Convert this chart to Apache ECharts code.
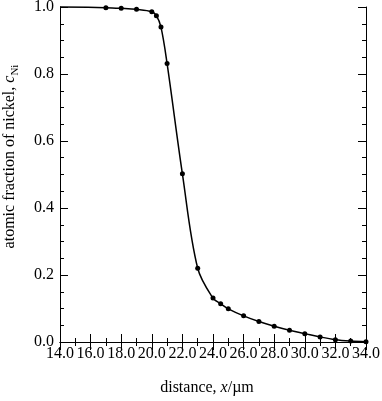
<!DOCTYPE html>
<html>
<head>
    <meta charset="utf-8">
    <title>ECharts</title>
    <script src="https://cdn.jsdelivr.net/npm/echarts@6/dist/echarts.min.js"></script>
    <style>html,body{margin:0;padding:0;background:#fff;}</style>
</head>
<body>
    <div id="main" style="width:382px;height:401px;"></div>
    <script type="text/javascript">
var distance = [14, 17, 18, 19, 20, 20.3, 20.6, 21, 22, 23, 24, 24.5, 25, 26, 27, 28, 29, 30, 31, 32, 33, 34];
var fraction = [1.0, 0.998, 0.996, 0.993, 0.986, 0.974, 0.94, 0.831, 0.502, 0.22, 0.131, 0.114, 0.099, 0.078, 0.061, 0.047, 0.035, 0.025, 0.015, 0.007, 0.003, 0.001];

var myChart = echarts.init(document.getElementById('main'));

var font = 'Liberation Serif';
var data = [];
for (var i = 0; i < distance.length; i++) {
    var item = { value: [distance[i], fraction[i]] };
    if (i === 0) item.symbol = 'none'; // curve start, no marker
    data.push(item);
}

function axisBase(extra) {
    var a = {
        axisLine: { show: true, lineStyle: { color: '#000', width: 1 } },
        axisTick: { show: true, inside: true, length: 8, lineStyle: { color: '#000' } },
        minorTick: { show: true, length: 4, lineStyle: { color: '#000' } },
        splitLine: { show: false },
        minorSplitLine: { show: false }
    };
    for (var k in extra) a[k] = extra[k];
    return a;
}

var option = {
    backgroundColor: '#fff',
    animation: false,
    grid: { left: 60, right: 16, top: 7, bottom: 59, outerBoundsMode: 'none' },
    xAxis: [
        axisBase({
            type: 'value', min: 14, max: 34, interval: 2, position: 'bottom',
            minorTick: { show: true, splitNumber: 2, length: 4, lineStyle: { color: '#000' } },
            axisLabel: {
                color: '#000', fontFamily: font, fontSize: 16, margin: 4,
                showMinLabel: true, showMaxLabel: true, hideOverlap: false,
                formatter: function (v) { return v.toFixed(1); }
            },
            name: 'distance, {i|x}/µm',
            nameLocation: 'middle', nameGap: 38,
            nameTextStyle: {
                color: '#000', fontFamily: font, fontSize: 16, padding: [0, 12, 0, 0],
                rich: { i: { fontFamily: font, fontSize: 16, fontStyle: 'italic', color: '#000' } }
            }
        }),
        axisBase({
            type: 'value', min: 14, max: 34, interval: 2, position: 'top',
            minorTick: { show: true, splitNumber: 2, length: 4, lineStyle: { color: '#000' } },
            axisLabel: { show: false }
        })
    ],
    yAxis: [
        axisBase({
            type: 'value', min: 0, max: 1, interval: 0.2, position: 'left',
            minorTick: { show: true, splitNumber: 4, length: 4, lineStyle: { color: '#000' } },
            axisLabel: {
                color: '#000', fontFamily: font, fontSize: 16, margin: 6,
                formatter: function (v) { return v.toFixed(1); }
            },
            name: 'atomic fraction of nickel, {i|c}{sub|Ni}',
            nameLocation: 'middle', nameGap: 39,
            nameTextStyle: {
                color: '#000', fontFamily: font, fontSize: 16, padding: [0, 0, 0, 36],
                rich: {
                    i: { fontFamily: font, fontSize: 16, fontStyle: 'italic', color: '#000' },
                    sub: { fontFamily: font, fontSize: 11, color: '#000', padding: [12, 0, 0, 0] }
                }
            }
        }),
        axisBase({
            type: 'value', min: 0, max: 1, interval: 0.2, position: 'right',
            minorTick: { show: true, splitNumber: 4, length: 4, lineStyle: { color: '#000' } },
            axisLabel: { show: false }
        })
    ],
    series: [{
        type: 'line',
        xAxisIndex: 0,
        yAxisIndex: 0,
        data: data,
        smooth: 0.35,
        symbol: 'circle',
        symbolSize: 5,
        showAllSymbol: true,
        lineStyle: { color: '#000', width: 1.5 },
        itemStyle: { color: '#000' },
        clip: false
    }]
};

myChart.setOption(option);
    </script>
</body>
</html>
